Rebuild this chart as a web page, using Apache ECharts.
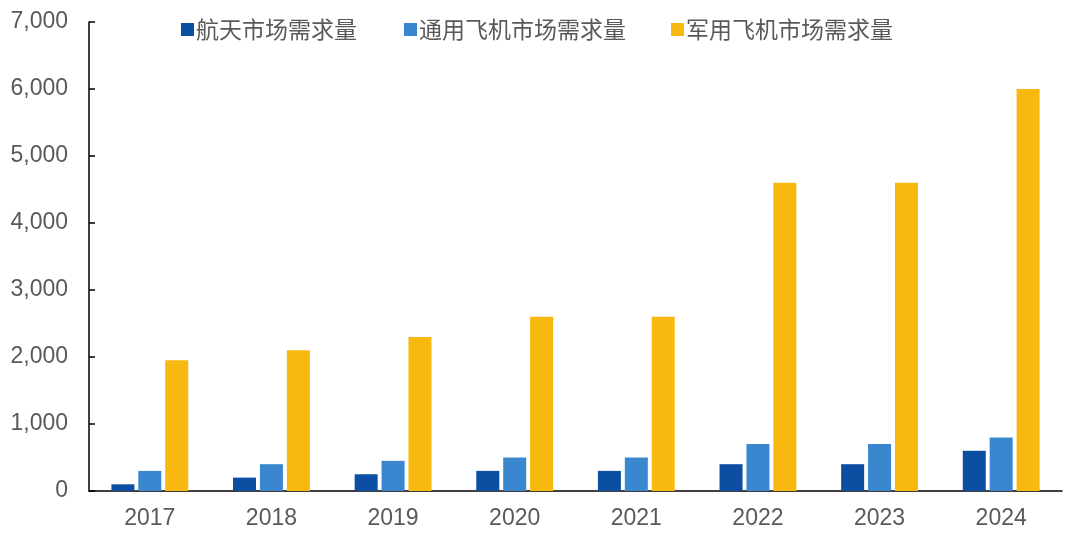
<!DOCTYPE html>
<html><head><meta charset="utf-8">
<script src="https://cdn.jsdelivr.net/npm/echarts@6/dist/echarts.min.js"></script>
<style>html,body{margin:0;padding:0;background:#fff}#c{width:1080px;height:537px}</style>
</head><body><div id="c"></div>
<script>
const years = ['2017','2018','2019','2020','2021','2022','2023','2024'];
const seriesNames = ['航天市场需求量','通用飞机市场需求量','军用飞机市场需求量'];
const aerospace = [100,200,250,300,300,400,400,600];
const generalAviation = [300,400,450,500,500,700,700,800];
const military = [1950,2100,2300,2600,2600,4600,4600,6000];
const colors = ['#0B4EA2','#3A87D0','#F7B810'];

const chart = echarts.init(document.getElementById('c'));
const dataSets = [aerospace, generalAviation, military];
const legendLefts = [176, 399, 666];
chart.setOption({
  animation:false,
  color: colors,
  grid:{left:89,right:18,top:22,bottom:46,containLabel:false},
  legend: seriesNames.map((n,i)=>({
    top:13, left:legendLefts[i], itemWidth:13, itemHeight:13, icon:'rect',
    textStyle:{fontFamily:'Noto Sans CJK SC', fontSize:23, color:'#595959', padding:[0,0,0,-3]},
    data:[n]
  })),
  xAxis:{
    type:'category', data:years,
    axisLine:{lineStyle:{color:'#000',width:1.5}},
    axisTick:{inside:true,length:6,alignWithLabel:false,lineStyle:{color:'#000',width:1.5}},
    axisLabel:{fontFamily:'Arial, Liberation Sans', fontSize:23, color:'#595959', margin:16}
  },
  yAxis:{
    type:'value', min:0, max:7000, interval:1000,
    axisLine:{show:true,lineStyle:{color:'#000',width:1.5}},
    axisTick:{show:true,inside:true,length:6,lineStyle:{color:'#000',width:1.5}},
    splitLine:{show:false},
    axisLabel:{fontFamily:'Arial, Liberation Sans', fontSize:23, color:'#595959', margin:21,
      formatter:v=>v.toLocaleString('en-US')}
  },
  series: seriesNames.map((n,i)=>({
    name:n, type:'bar', data:dataSets[i], barWidth:23, barGap:'17%',
    itemStyle:{color:colors[i]}
  }))
});
</script></body></html>
